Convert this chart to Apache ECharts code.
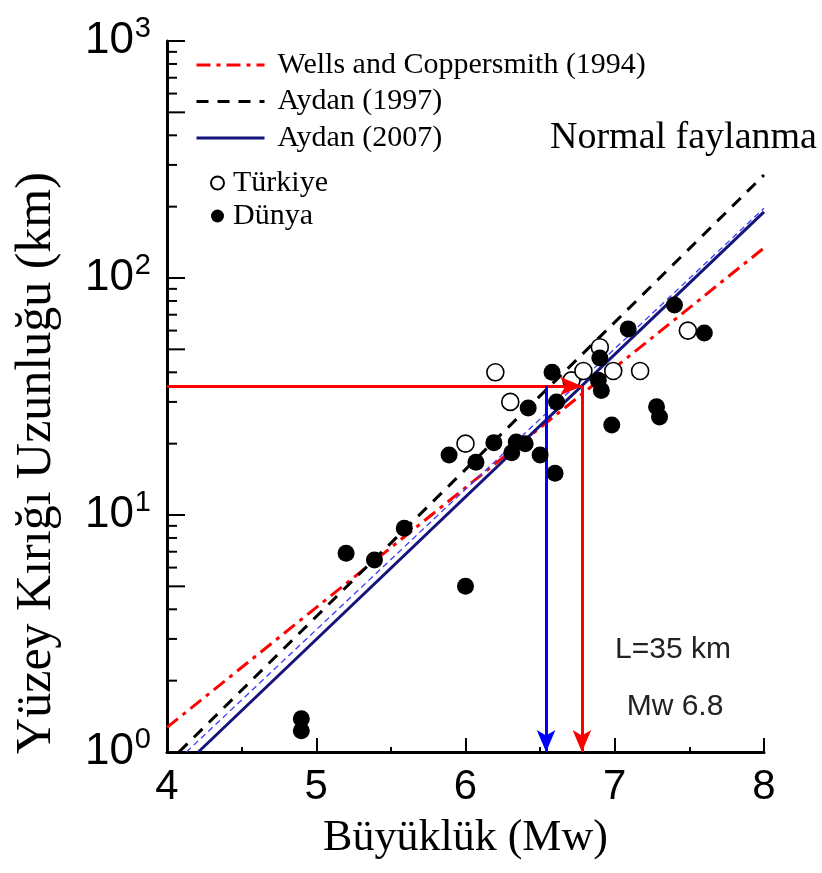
<!DOCTYPE html>
<html><head><meta charset="utf-8">
<script src="https://cdn.jsdelivr.net/npm/echarts@6/dist/echarts.min.js"></script>
<style>html,body{margin:0;padding:0;background:#fff}#c{width:822px;height:873px}</style>
</head><body><div id="c"></div><script>
// ---- data ----
const xTickLabels = ['4','5','6','7','8'];
const yExponents = ['0','1','2','3'];
const yMinorTicks = [2,3,4,5,6,7,8,9,20,30,40,50,60,70,80,90,200,300,400,500,600,700,800,900];
const wellsM = [4, 8],        wellsL = [1.27, 134];
const aydan1997M = [4.08, 8], aydan1997L = [1, 272];
const aydan2007M = [4.21, 8], aydan2007L = [1, 190];
const aydan2007bM = [4.13, 8], aydan2007bL = [1, 197];
const turkiyeM = [6.0, 6.2, 6.3, 6.71, 6.79, 6.9, 6.99, 7.17, 7.49];
const turkiyeL = [20, 40, 30, 37, 40.5, 51, 40.5, 40.5, 60];
const dunyaM = [4.9, 4.9, 5.2, 5.39, 5.59, 6.0, 5.89, 6.07, 6.19, 6.31, 6.34, 6.40, 6.50, 6.60, 6.42, 6.61, 6.58, 6.9, 6.89, 6.91, 6.98, 7.28, 7.30, 7.09, 7.40, 7.60];
const dunyaL = [1.38, 1.23, 6.9, 6.46, 8.8, 5.0, 17.9, 16.7, 20.2, 18.3, 20.3, 20, 17.9, 15, 28.3, 30, 40, 46, 37, 33.5, 24, 28.6, 25.9, 61, 77, 58.6];
const targetL = 35, targetMRed = 6.78, targetMBlue = 6.54;
const xMin = 4, xMax = 8, yMin = 1, yMax = 1000;
const yTitle = 'Yüzey Kırığı Uzunluğu (km)';

const zip = (a, b) => a.map((v, i) => [v, b[i]]);
const chart = echarts.init(document.getElementById('c'), null, {renderer: 'canvas'});
const serif = 'Liberation Serif, Times New Roman, serif';
const sans = 'Liberation Sans, Arial, sans-serif';

chart.setOption({
  animation: false,
  backgroundColor: '#fff',
  grid: {left: 167, right: 58, top: 41, bottom: 121, containLabel: false},
  legend: [{
    orient: 'vertical', left: 190, top: 45, itemWidth: 68, itemHeight: 14, itemGap: 6.5,
    data: ['Wells and Coppersmith (1994)', 'Aydan (1997)', 'Aydan (2007)'],
    itemStyle: {opacity: 0},
    lineStyle: {width: 3},
    textStyle: {fontFamily: serif, fontSize: 30, color: '#000', padding: [0,0,0,8], lineHeight: 30},
    selectedMode: false
  }, {
    orient: 'vertical', left: 205, top: 163, itemWidth: 13, itemHeight: 13, itemGap: 3,
    data: ['Türkiye', 'Dünya'],
    textStyle: {fontFamily: serif, fontSize: 30, color: '#000', padding: [0,0,0,4], lineHeight: 30},
    selectedMode: false
  }],
  xAxis: {
    type: 'value', min: xMin, max: xMax, interval: 1,
    name: 'Büyüklük (Mw)', nameLocation: 'middle', nameGap: 64,
    nameTextStyle: {fontFamily: serif, fontSize: 44, color: '#000'},
    axisLine: {lineStyle: {color: '#000', width: 3}},
    axisTick: {inside: true, length: 14, lineStyle: {width: 2, color: '#000'}},
    minorTick: {show: true, splitNumber: 2, length: 5, lineStyle: {width: 2, color: '#000'}},
    axisLabel: {fontFamily: sans, fontSize: 42, color: '#000', margin: 14,
      formatter: v => xTickLabels[Math.round(v - xMin)]},
    splitLine: {show: false}
  },
  yAxis: {
    type: 'log', logBase: 10, min: yMin, max: yMax,
    axisLine: {lineStyle: {color: '#000', width: 3}},
    axisTick: {inside: true, length: 18, lineStyle: {width: 2, color: '#000'}},
    axisLabel: {margin: 16, color: '#000',
      formatter: v => '{b|10}{s|' + yExponents[Math.round(Math.log10(v))] + '}',
      rich: {
        b: {fontFamily: sans, fontSize: 44, color: '#000'},
        s: {fontFamily: sans, fontSize: 29, color: '#000', padding: [0, 0, 24, 1]}
      }},
    splitLine: {show: false}
  },
  graphic: [
    {type: 'text', x: 37, y: 463, rotation: Math.PI / 2,
      style: {text: yTitle, font: '50px ' + serif, fill: '#000', align: 'center', verticalAlign: 'middle'}},
    {type: 'text', left: 550, top: 119, style: {text: 'Normal faylanma', font: '38px ' + serif, fill: '#000'}},
    {type: 'text', x: 673, y: 650, style: {text: 'L=35 km', font: '30px ' + sans, fill: '#222', align: 'center', verticalAlign: 'middle'}},
    {type: 'text', x: 675, y: 707, style: {text: 'Mw 6.8', font: '30px ' + sans, fill: '#222', align: 'center', verticalAlign: 'middle'}}
  ],
  series: [
    {type: 'custom', name: 'yMinor', silent: true, z: 1,
      data: yMinorTicks.map(v => [xMin, v]),
      renderItem: (params, api) => {
        const v = api.value(1);
        const m = Math.round(v / Math.pow(10, Math.floor(Math.log10(v) + 1e-9)));
        const p = api.coord([xMin, v]);
        const len = m === 5 ? 18 : 10;
        return {type: 'line', shape: {x1: p[0], y1: p[1], x2: p[0] + len, y2: p[1]}, style: {stroke: '#000', lineWidth: 2}};
      }},
    {type: 'line', name: 'Wells and Coppersmith (1994)', data: zip(wellsM, wellsL), symbol: 'none', z: 3,
      lineStyle: {color: '#ff0000', width: 3, type: [14, 6, 4, 6]}, itemStyle: {color: '#ff0000'}},
    {type: 'line', name: 'Aydan (1997)', data: zip(aydan1997M, aydan1997L), symbol: 'none', z: 3,
      lineStyle: {color: '#000', width: 3, type: [12, 9]}, itemStyle: {color: '#000'}},
    {type: 'line', name: 'Aydan (2007)', data: zip(aydan2007M, aydan2007L), symbol: 'none', z: 3,
      lineStyle: {color: '#14147a', width: 3, type: 'solid'}, itemStyle: {color: '#14147a'}},
    {type: 'line', name: 'Aydan (2007) b', data: zip(aydan2007bM, aydan2007bL), symbol: 'none', z: 3,
      lineStyle: {color: '#3a3aff', width: 1.3, type: [6, 4]}, itemStyle: {color: '#3a3aff'}},
    {type: 'scatter', name: 'Türkiye', data: zip(turkiyeM, turkiyeL), symbol: 'circle', symbolSize: 17, z: 4,
      itemStyle: {color: '#fff', borderColor: '#000', borderWidth: 1.6, opacity: 1}},
    {type: 'scatter', name: 'Dünya', data: zip(dunyaM, dunyaL), symbol: 'circle', symbolSize: 17, z: 5,
      itemStyle: {color: '#000', opacity: 1}},
    {type: 'line', name: 'arrows', data: [], z: 6,
      markLine: {silent: true, symbol: ['none', 'arrow'], symbolSize: [14, 22], label: {show: false},
        animation: false,
        data: [
          [{coord: [xMin, targetL], lineStyle: {color: '#ff0000', width: 3, type: 'solid'}}, {coord: [targetMRed, targetL]}],
          [{coord: [targetMRed, targetL], lineStyle: {color: '#ff0000', width: 3, type: 'solid'}}, {coord: [targetMRed, yMin]}],
          [{coord: [targetMBlue, targetL], lineStyle: {color: '#0000ff', width: 3, type: 'solid'}}, {coord: [targetMBlue, yMin]}]
        ]}}
  ]
});
</script></body></html>
